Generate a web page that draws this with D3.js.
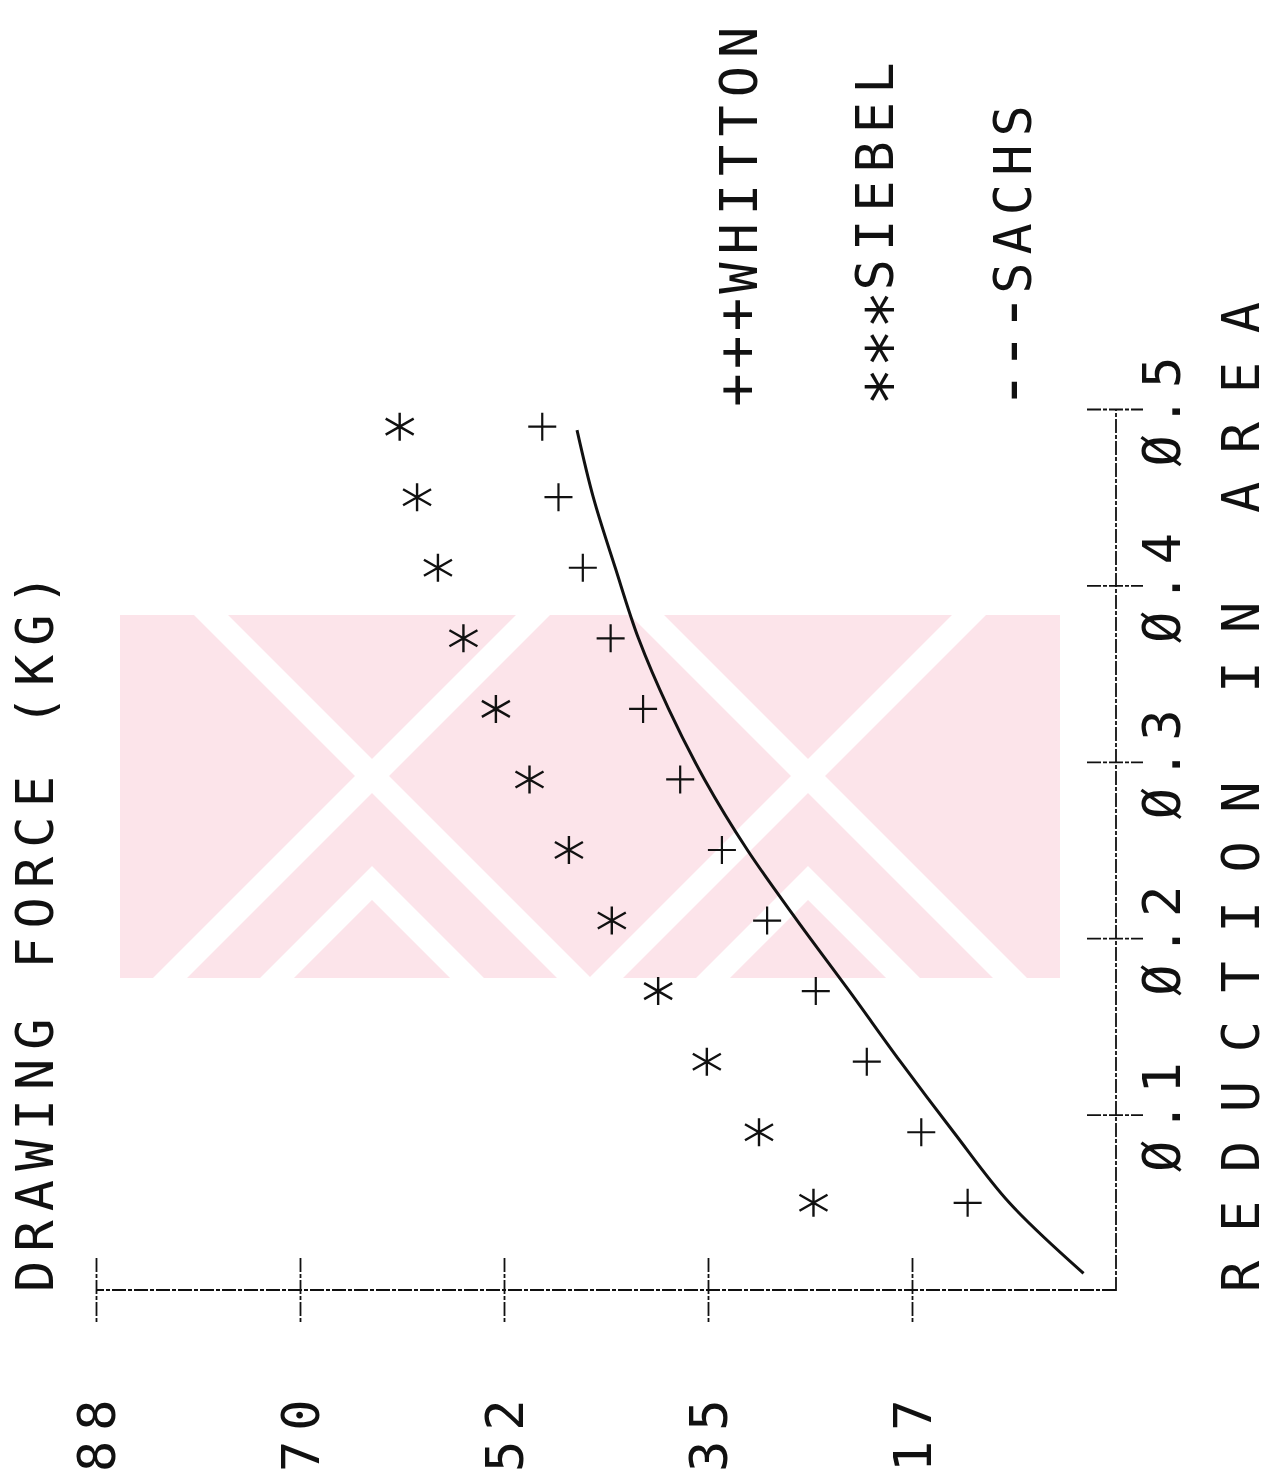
<!DOCTYPE html>
<html>
<head>
<meta charset="utf-8">
<script src="https://cdn.jsdelivr.net/npm/d3@7"></script>
<style>
  html, body { margin: 0; padding: 0; background: #fff; }
  text { font-family: "DejaVu Sans Mono", "Liberation Mono", monospace; fill: #111; }
</style>
</head>
<body>
<svg id="chart" width="1280" height="1479"></svg>
<script>
// Data (reduction in area vs drawing force in kg)
const whittonReduction = [0.05, 0.09, 0.13, 0.17, 0.21, 0.25, 0.29, 0.33, 0.37, 0.41, 0.45, 0.49];
const whittonForce = [12.8, 16.8, 21.5, 25.9, 30.1, 34.0, 37.6, 40.8, 43.6, 46.0, 48.1, 49.5];

const siebelReduction = [0.05, 0.09, 0.13, 0.17, 0.21, 0.25, 0.29, 0.33, 0.37, 0.41, 0.45, 0.49];
const siebelForce = [26.1, 30.8, 35.3, 39.5, 43.5, 47.2, 50.6, 53.5, 56.3, 58.5, 60.3, 61.8];

const sachsReduction = [0.01, 0.05, 0.09, 0.13, 0.17, 0.21, 0.25, 0.29, 0.33, 0.37, 0.41, 0.45, 0.488];
const sachsForce = [2.8, 9.2, 14.0, 18.6, 23.0, 27.5, 31.8, 35.5, 38.6, 41.2, 43.2, 45.1, 46.5];

const forceTicks = [17.6, 35.2, 52.8, 70.4, 88];
const forceTickLabels = ["17", "35", "52", "70", "88"];
const reductionTicks = [0.1, 0.2, 0.3, 0.4, 0.5];
const reductionTickLabels = ["Ø.1", "Ø.2", "Ø.3", "Ø.4", "Ø.5"];

const legendSymbols = ["+++", "***", "---"];
const legendNames = ["WHITTON", "SIEBEL", "SACHS"];

const svg = d3.select("#chart");
svg.append("rect").attr("width", 1280).attr("height", 1479).attr("fill", "#fff");

// The plot is printed turned a quarter turn: force runs right-to-left, reduction bottom-to-top
const x = d3.scaleLinear().domain([0, 88]).range([1116, 96]);
const y = d3.scaleLinear().domain([0, 0.5]).range([1291, 409]);

// Faint watermark behind the plot
const wm = svg.append("g");
wm.append("clipPath").attr("id", "wmclip")
  .append("rect").attr("x", 120).attr("y", 615).attr("width", 940).attr("height", 363);
const wmG = wm.append("g").attr("clip-path", "url(#wmclip)");
wmG.append("rect").attr("x", 120).attr("y", 615).attr("width", 940).attr("height", 363)
  .attr("fill", "#fce4ea");
const wmLines = [];
[372, 808].forEach((cx) => {
  wmLines.push(`M${cx - 260},${776 - 260}L${cx + 260},${776 + 260}`);
  wmLines.push(`M${cx - 260},${776 + 260}L${cx + 260},${776 - 260}`);
  wmLines.push(`M${cx - 160},${883 + 160}L${cx},883L${cx + 160},${883 + 160}`);
});
wmG.selectAll("path").data(wmLines).join("path")
  .attr("d", (d) => d)
  .attr("fill", "none").attr("stroke", "#fff").attr("stroke-width", 24)
  .attr("stroke-linejoin", "miter");

const axisStroke = (g) => {
  g.attr("font-family", null).attr("font-size", null);
  g.selectAll("path, line").attr("stroke", "#111").attr("stroke-width", 1.8)
    .attr("stroke-dasharray", "14 2 4 2");
};

// Force axis (drawn along the bottom)
const gForce = svg.append("g")
  .attr("transform", "translate(0,1290)")
  .call(d3.axisBottom(x).tickValues(forceTicks).tickSizeOuter(0)
    .tickFormat((d, i) => forceTickLabels[i]));
gForce.select(".domain").attr("d", `M${x(0)},0H${x(88)}`);
gForce.selectAll(".tick line").attr("y1", -32).attr("y2", 32);
gForce.selectAll(".tick text")
  .attr("y", null).attr("dy", "0.36em")
  .attr("transform", "translate(0,182) rotate(-90)")
  .attr("text-anchor", "start")
  .attr("font-size", 52).attr("letter-spacing", 10);
gForce.call(axisStroke);

// Reduction axis (drawn along the right)
const gRed = svg.append("g")
  .attr("transform", "translate(1116,0)")
  .call(d3.axisRight(y).tickValues(reductionTicks).tickSizeOuter(0)
    .tickFormat((d, i) => reductionTickLabels[i]));
gRed.select(".domain").attr("d", `M0,${y(0)}V${y(0.5)}`);
gRed.selectAll(".tick line").attr("x1", -29).attr("x2", 27);
gRed.selectAll(".tick text")
  .attr("x", null).attr("dy", "0.36em")
  .attr("transform", "translate(45,57) rotate(-90)")
  .attr("text-anchor", "start")
  .attr("font-size", 52).attr("letter-spacing", 8);
gRed.call(axisStroke);

// Sachs curve
const line = d3.line()
  .x((d) => x(d[1]))
  .y((d) => y(d[0]))
  .curve(d3.curveCatmullRom);
svg.append("path")
  .datum(sachsReduction.map((r, i) => [r, sachsForce[i]]))
  .attr("d", line)
  .attr("fill", "none")
  .attr("stroke", "#111")
  .attr("stroke-width", 3);

// Whitton plus markers
svg.append("g").selectAll("path")
  .data(whittonReduction.map((r, i) => [r, whittonForce[i]]))
  .join("path")
  .attr("transform", (d) => `translate(${x(d[1])},${y(d[0])})`)
  .attr("d", "M-14,0H14M0,-14V14")
  .attr("stroke", "#111").attr("stroke-width", 2.2).attr("fill", "none");

// Siebel asterisk markers
svg.append("g").selectAll("path")
  .data(siebelReduction.map((r, i) => [r, siebelForce[i]]))
  .join("path")
  .attr("transform", (d) => `translate(${x(d[1])},${y(d[0])})`)
  .attr("d", "M0,-14V14M-14,-8L14,8M-14,8L14,-8")
  .attr("stroke", "#111").attr("stroke-width", 2.4).attr("fill", "none");

// Rotated titles
const rotText = (tx, ty, str, len) => svg.append("text")
  .attr("transform", `translate(${tx},${ty}) rotate(-90)`)
  .attr("dy", "0.36em")
  .attr("font-size", 52)
  .attr("textLength", len).attr("lengthAdjust", "spacing")
  .text(str);
rotText(34, 1292, "DRAWING FORCE (KG)", 718);
rotText(1240, 1292, "REDUCTION IN AREA", 990);

// Legend: symbol run enlarged like the plotter glyphs, then the name
const legendX = [738, 874, 1012];
const legendStart = [407, 406, 410];
const capMid = 19;
const symStyle = [
  { size: 56, shift: 17, ls: 4 },
  { size: 64, shift: 38, ls: 0 },
  { size: 66, shift: 20, ls: -1 }
];
legendNames.forEach((name, i) => {
  const s = symStyle[i];
  const t = svg.append("text")
    .attr("transform", `translate(${legendX[i]},${legendStart[i]}) rotate(-90)`);
  t.append("tspan")
    .attr("font-size", s.size)
    .attr("dy", s.shift)
    .attr("letter-spacing", s.ls)
    .text(legendSymbols[i]);
  t.append("tspan")
    .attr("font-size", 52)
    .attr("dy", capMid - s.shift)
    .attr("letter-spacing", 8)
    .text(name);
});
</script>
</body>
</html>
